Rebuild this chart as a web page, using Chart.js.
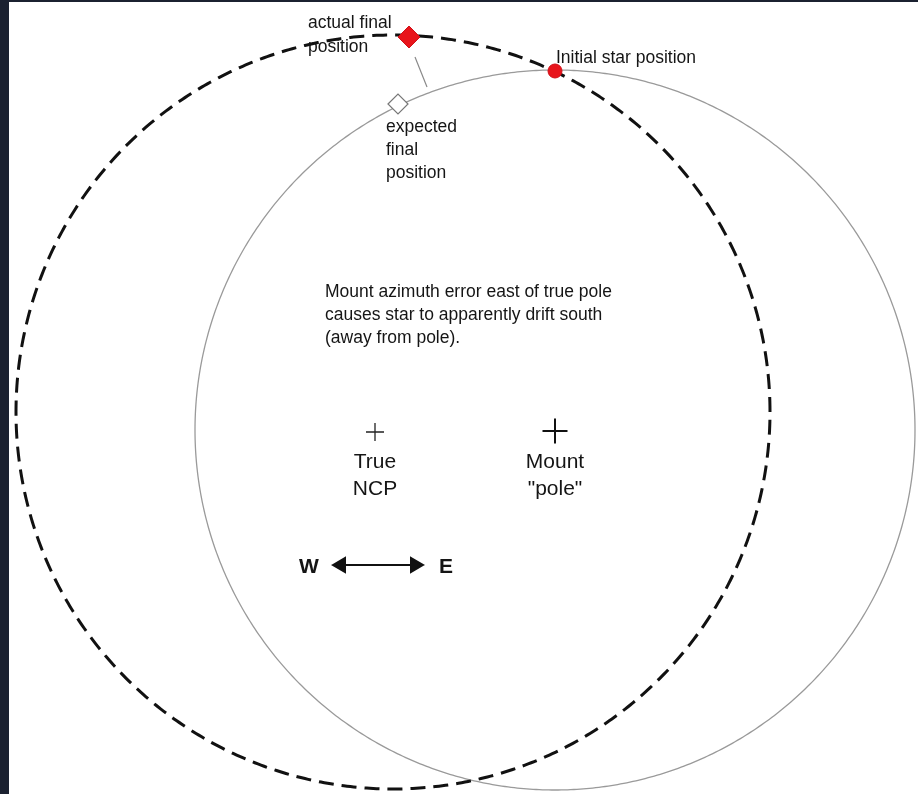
<!DOCTYPE html>
<html>
<head>
<meta charset="utf-8">
<script src="https://cdn.jsdelivr.net/npm/chart.js@4"></script>
<style>
  html, body { margin: 0; padding: 0; background: #1b2130; }
  body { width: 918px; height: 794px; position: relative; overflow: hidden; }
  #wrap { position: absolute; left: 9px; top: 2px; width: 909px; height: 792px; background: #fff; }
</style>
</head>
<body>
<div id="wrap"><canvas id="chart" width="909" height="792"></canvas></div>
<script>
// Coordinates: origin at the true NCP, y pointing up, 1 unit ~ 1 px
const dashedCircle = { cx: 18, cy: 20, r: 377 };   // path the star really follows
const solidCircle = { cx: 180, cy: 2, r: 360 };    // path around the mount "pole"
const initialStar = [{ x: 180, y: 361 }];
const actualFinal = [{ x: 34, y: 395 }];
const expectedFinal = [{ x: 23, y: 328 }];
const leaderLine = [{ x: 40, y: 375 }, { x: 52, y: 345 }];
const trueNcp = [{ x: 0, y: 0 }];
const mountPole = [{ x: 180, y: 1 }];
const arrowEnds = [{ x: -34, y: -133 }, { x: 40, y: -133 }];

// text notes: [text, x, y] (y = baseline)
const smallNotes = [
    ['actual final', -67, 404],
    ['position', -67, 380],
    ['Initial star position', 181, 369],
    ['expected', 11, 300],
    ['final', 11, 277],
    ['position', 11, 254]
];
const paragraph = [
    ['Mount azimuth error east of true pole', -50, 135],
    ['causes star to apparently drift south', -50, 112],
    ['(away from pole).', -50, 89]
];
const poleNotes = [
    ['True', 0, -36],
    ['NCP', 0, -63],
    ['Mount', 180, -36],
    ['"pole"', 180, -63]
];
const compass = [['W', -66, -141], ['E', 71, -141]];

function circlePoints(c) {
    const pts = [];
    for (let i = 0; i <= 360; i++) {
        const a = i * Math.PI / 180;
        pts.push({ x: c.cx + c.r * Math.cos(a), y: c.cy + c.r * Math.sin(a) });
    }
    return pts;
}

const FONT = '"Liberation Sans", Arial, sans-serif';

// draw the text notes at data coordinates
const notesPlugin = {
    id: 'notes',
    afterDatasetsDraw(chart) {
        const { ctx, scales: { x, y } } = chart;
        const put = (list, font, align) => {
            ctx.save();
            ctx.font = font;
            ctx.fillStyle = '#151515';
            ctx.textAlign = align;
            ctx.textBaseline = 'alphabetic';
            list.forEach(([t, vx, vy]) => {
                ctx.fillText(t, x.getPixelForValue(vx), y.getPixelForValue(vy));
            });
            ctx.restore();
        };
        put(smallNotes, '17.5px ' + FONT, 'left');
        put(paragraph, '17.5px ' + FONT, 'left');
        put(poleNotes, '21px ' + FONT, 'center');
        put(compass, 'bold 21px ' + FONT, 'center');
    }
};

// first dataset in the list is drawn on top
new Chart(document.getElementById('chart'), {
    type: 'scatter',
    data: {
        datasets: [
            {
                data: initialStar,
                pointStyle: 'circle',
                pointRadius: 7,
                backgroundColor: '#e8141b',
                borderColor: '#d01018',
                borderWidth: 1
            },
            {
                data: actualFinal,
                pointStyle: 'rectRot',
                pointRadius: 11,
                backgroundColor: '#e8141b',
                borderColor: '#d01018',
                borderWidth: 1
            },
            {
                data: expectedFinal,
                pointStyle: 'rectRot',
                pointRadius: 10,
                backgroundColor: '#fff',
                borderColor: '#777',
                borderWidth: 1.2
            },
            {
                data: trueNcp,
                pointStyle: 'cross',
                pointRadius: 9,
                borderColor: '#222',
                borderWidth: 1.3
            },
            {
                data: mountPole,
                pointStyle: 'cross',
                pointRadius: 12.5,
                borderColor: '#111',
                borderWidth: 2
            },
            {
                data: arrowEnds,
                showLine: true,
                borderColor: '#111',
                backgroundColor: '#111',
                borderWidth: 2,
                pointStyle: 'triangle',
                pointRadius: 8,
                pointRotation: [-90, 90]
            },
            {
                data: leaderLine,
                showLine: true,
                borderColor: '#8a8a8a',
                borderWidth: 1.2,
                pointRadius: 0
            },
            {
                data: circlePoints(dashedCircle),
                showLine: true,
                borderColor: '#111',
                borderWidth: 3,
                borderDash: [15, 8],
                pointRadius: 0,
                tension: 0.3,
                clip: false
            },
            {
                data: circlePoints(solidCircle),
                showLine: true,
                borderColor: '#9a9a9a',
                borderWidth: 1.3,
                pointRadius: 0,
                tension: 0.3,
                clip: false
            }
        ]
    },
    options: {
        responsive: false,
        animation: false,
        events: [],
        layout: { padding: 0, autoPadding: false },
        plugins: {
            legend: { display: false },
            tooltip: { enabled: false }
        },
        scales: {
            x: { type: 'linear', min: -366, max: 543, display: false },
            y: { type: 'linear', min: -362, max: 430, display: false }
        }
    },
    plugins: [notesPlugin]
});
</script>
</body>
</html>
